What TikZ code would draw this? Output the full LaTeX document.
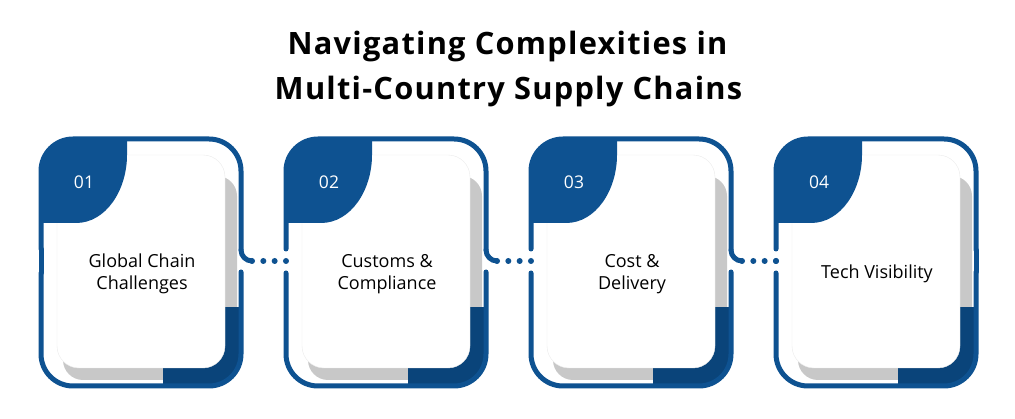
\documentclass[tikz,border=0pt]{standalone}
\usepackage{fontspec}
\setmainfont{Open Sans}
\newfontfamily\headfont[LetterSpace=4]{Open Sans}
\usepackage{tikz}
\usetikzlibrary{calc}

\definecolor{navblue}{RGB}{14,82,145}
\definecolor{deepblue}{RGB}{10,68,122}
\definecolor{shadowgray}{RGB}{200,200,200}

\begin{document}
\begin{tikzpicture}[x=1pt,y=-1pt,
    frame/.style={draw=navblue, line width=5pt, line cap=round},
    linkdots/.style={draw=navblue, line width=6pt, line cap=round, dash pattern=on 0pt off 11.33pt},
    titletext/.style={anchor=base, font=\headfont\fontsize{30.8}{36}\selectfont\bfseries},
    numtext/.style={text=white, font=\fontsize{17.5}{20}\selectfont},
    cardtext/.style={align=center, font=\fontsize{18}{22}\selectfont}]
    \useasboundingbox (0,0) rectangle (1015,419);
    \node[titletext] (title1) at (507.5,55) {Navigating Complexities in};
    \node[titletext] (title2) at (508.5,100) {Multi-Country Supply Chains};
    \foreach \i/\x/\lbl in {1/41/{Global Chain\\Challenges}, 2/286/{Customs \&\\Compliance},
                            3/531/{Cost \&\\Delivery}, 4/776/{Tech Visibility}} {
        \begin{scope}
            \clip[rounded corners=32] (\x,139) rectangle (\x+200,386);
            \fill[shadowgray, rounded corners=20] (\x+22,176) rectangle (\x+196,380);
            \fill[deepblue] (\x+122,307) rectangle (\x+205,392);
            \fill[white, draw=black!8, rounded corners=22] (\x+16,155) rectangle (\x+184,368);
            \fill[navblue] (\x-3,136) -- (\x+86,136) -- (\x+86,155)
                .. controls (\x+86,190) and (\x+65,223) .. (\x+35,223) -- (\x-3,223) -- cycle;
        \end{scope}
        \draw[frame, rounded corners=32] (\x,249) -- (\x,139) -- (\x+200,139) -- (\x+200,250);
        \draw[frame, rounded corners=32] (\x,273) -- (\x,386) -- (\x+200,386) -- (\x+200,272);
        \coordinate (gap\i) at (\x,261);
        \coordinate (hook\i) at (\x+211,261);
        \node[numtext] (num\i) at (\x+43,182) {0\i};
        \node[cardtext] (card\i) at (\x+101,274) {\lbl};
    }
    % closed outer sides
    \draw[frame] (41,249) -- (41,273);
    \draw[frame] (976,250) -- (976,272);
    % hooks and dotted links
    \foreach \i/\x/\j in {1/41/2, 2/286/3, 3/531/4} {
        \draw[frame] (\x+200,250) .. controls (\x+200,256) and (\x+205,261) .. (hook\i);
        \draw[linkdots] (hook\i) -- (gap\j);
    }
    \fill[navblue] (gap4) circle (3);
\end{tikzpicture}
\end{document}
